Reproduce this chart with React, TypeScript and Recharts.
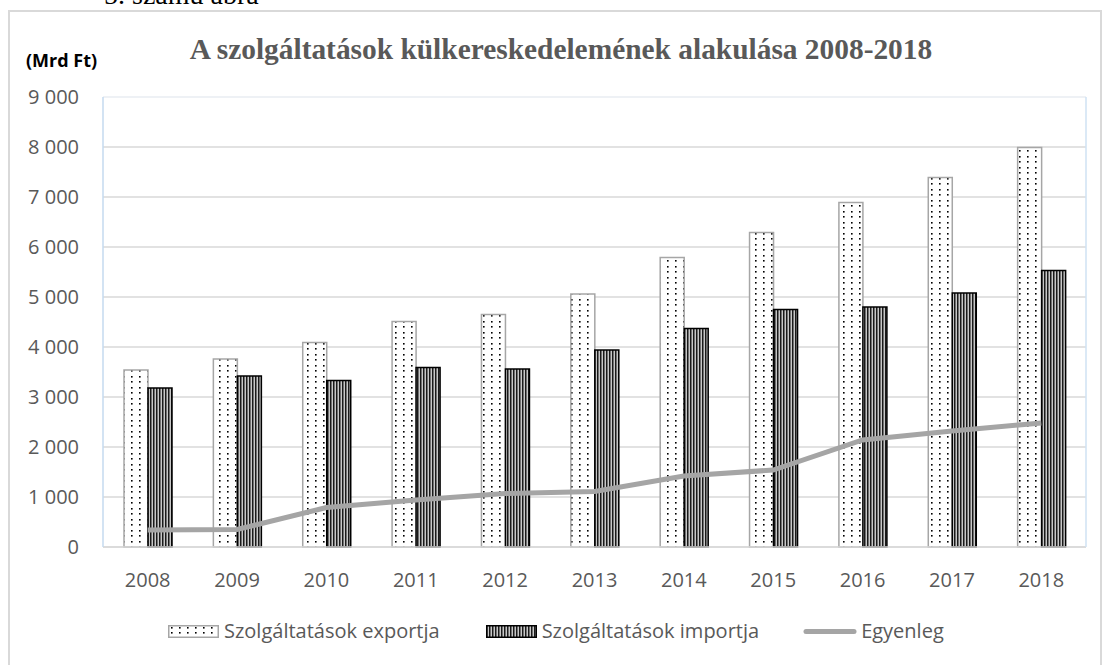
import {
  ComposedChart, Bar, Line, XAxis, YAxis, CartesianGrid, ReferenceLine,
} from 'recharts';

const years = ['2008', '2009', '2010', '2011', '2012', '2013', '2014', '2015', '2016', '2017', '2018'];
const exportValues = [3540, 3760, 4090, 4510, 4650, 5060, 5790, 6290, 6890, 7390, 7990];
const importValues = [3180, 3420, 3330, 3590, 3560, 3940, 4370, 4750, 4800, 5080, 5530];
const balanceValues = [340, 350, 790, 940, 1070, 1110, 1420, 1540, 2140, 2320, 2480];
const yTicks = [0, 1000, 2000, 3000, 4000, 5000, 6000, 7000, 8000, 9000];

const data = years.map((year, i) => ({
  year,
  export: exportValues[i],
  import: importValues[i],
  balance: balanceValues[i],
}));

const FONT = '"Open Sans", "Noto Sans", sans-serif';
const TEXT = '#595959';

const fmt = (v: number) => String(v).replace(/\B(?=(\d{3})+(?!\d))/g, ' ');

function Patterns() {
  return (
    <svg width={0} height={0} style={{ position: 'absolute' }}>
      <defs>
        <pattern id="dots" width={8} height={11} patternUnits="userSpaceOnUse">
          <rect width={8} height={11} fill="#fff" />
          <rect x={3} y={2} width={1.6} height={1.6} fill="#000" />
          <rect x={3} y={7} width={1.6} height={1.6} fill="#000" />
        </pattern>
        <pattern id="stripes" width={3} height={4} patternUnits="userSpaceOnUse">
          <rect width={3} height={4} fill="#c8c8c8" />
          <rect x={0} width={1.5} height={4} fill="#1a1a1a" />
        </pattern>
      </defs>
    </svg>
  );
}

function LegendBar() {
  const label = { fontFamily: FONT, fontSize: 20, color: TEXT, lineHeight: '20px' };
  return (
    <div style={{ position: 'absolute', left: 168, top: 621, display: 'flex', alignItems: 'center' }}>
      <svg width={51} height={13}>
        <rect x={0.75} y={0.75} width={49.5} height={11.5} fill="url(#dots)" stroke="#a6a6a6" strokeWidth={1.5} />
      </svg>
      <span style={{ ...label, marginLeft: 5 }}>Szolgáltatások exportja</span>
      <svg width={51} height={13} style={{ marginLeft: 46 }}>
        <rect x={0.75} y={0.75} width={49.5} height={11.5} fill="url(#stripes)" stroke="#000" strokeWidth={1.5} />
      </svg>
      <span style={{ ...label, marginLeft: 5 }}>Szolgáltatások importja</span>
      <svg width={54} height={13} style={{ marginLeft: 44 }}>
        <line x1={3} y1={6.5} x2={51} y2={6.5} stroke="#a5a5a5" strokeWidth={5} strokeLinecap="round" />
      </svg>
      <span style={{ ...label, marginLeft: 4 }}>Egyenleg</span>
    </div>
  );
}

export default function App() {
  return (
    <div style={{ position: 'fixed', left: 0, top: 0, width: 1106, height: 665, background: '#fff', overflow: 'hidden' }}>
      <Patterns />
      <div style={{ position: 'absolute', left: 8, top: 10, width: 1090, height: 700, border: '2px solid #d9d9d9' }} />
      <svg width={1106} height={665} style={{ position: 'absolute', left: 0, top: 0 }}>
        <text x={104} y={4} fontFamily='"Liberation Serif", serif' fontSize={28} fill="#000">5. számú ábra</text>
        <text x={561} y={59} textAnchor="middle" fontFamily='"Liberation Serif", serif' fontWeight="bold" fontSize={29.4} fill={TEXT}>
          A szolgáltatások külkereskedelemének alakulása 2008-2018
        </text>
        <text x={26} y={67} fontFamily={FONT} fontWeight="bold" fontSize={18} fill="#000">(Mrd Ft)</text>
      </svg>
      <div style={{ position: 'absolute', left: 0, top: 0 }}>
        <ComposedChart
          width={1106}
          height={665}
          data={data}
          margin={{ top: 97, right: 19, bottom: 0, left: 43 }}
          barGap={0}
        >
          <CartesianGrid vertical={false} stroke="#d9d9d9" strokeWidth={1.5} />
          <ReferenceLine y={9000} stroke="#eef1f5" strokeWidth={2} />
          <XAxis
            dataKey="year"
            height={118}
            tickLine={false}
            tickSize={0}
            tickMargin={26}
            axisLine={{ stroke: '#d9d9d9', strokeWidth: 1.5 }}
            tick={{ fill: TEXT, fontSize: 20, fontFamily: FONT }}
          />
          <YAxis
            width={60}
            domain={[0, 9000]}
            ticks={yTicks}
            tickFormatter={fmt}
            tickLine={false}
            tickSize={0}
            tickMargin={24}
            axisLine={{ stroke: '#c5daef', strokeWidth: 1.5 }}
            tick={{ fill: TEXT, fontSize: 20, fontFamily: FONT }}
          />
          <YAxis
            yAxisId="r"
            orientation="right"
            width={1}
            domain={[0, 9000]}
            tick={false}
            tickLine={false}
            axisLine={{ stroke: '#cfe2f3', strokeWidth: 1.5 }}
          />
          <Bar dataKey="export" barSize={24} fill="url(#dots)" stroke="#a6a6a6" strokeWidth={1.5} isAnimationActive={false} />
          <Bar dataKey="import" barSize={24} fill="url(#stripes)" stroke="#000" strokeWidth={1.5} isAnimationActive={false} />
          <Line
            dataKey="balance"
            type="linear"
            stroke="#a5a5a5"
            strokeWidth={5}
            dot={false}
            activeDot={false}
            isAnimationActive={false}
          />
        </ComposedChart>
      </div>
      <LegendBar />
    </div>
  );
}
